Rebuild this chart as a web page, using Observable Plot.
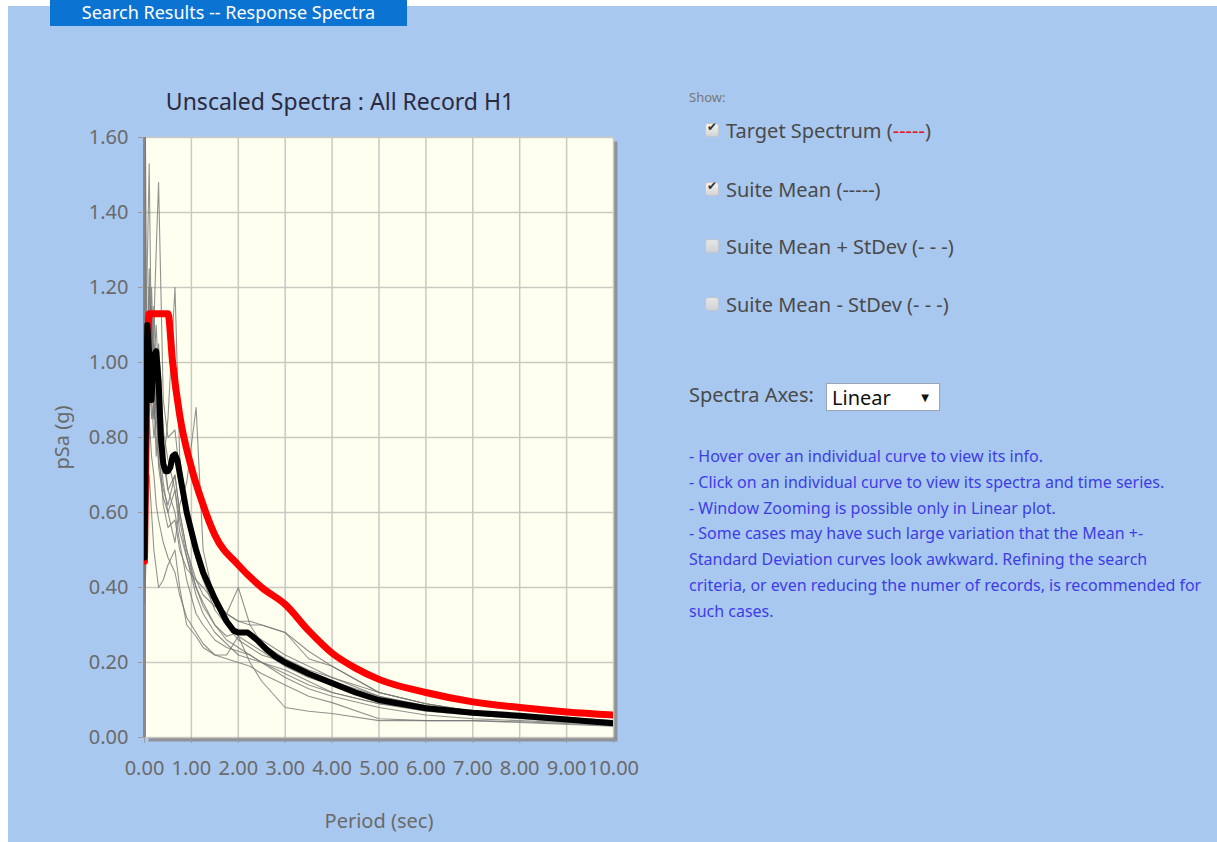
<!DOCTYPE html>
<html>
<head>
<meta charset="utf-8">
<script src="https://cdn.jsdelivr.net/npm/d3@7"></script>
<script src="https://cdn.jsdelivr.net/npm/@observablehq/plot@0.6"></script>
<style>
  html, body { margin: 0; padding: 0; width: 1217px; height: 842px; overflow: hidden; background: #ffffff; }
  body { position: relative; font-family: "Noto Sans", "Open Sans", "DejaVu Sans", sans-serif; }
  #panel { position: absolute; left: 8px; top: 6px; width: 1209px; height: 836px; background: #a9c8ef; }
  #tab { position: absolute; left: 50px; top: 0px; width: 357px; height: 26px; background: #0b74d2; color: #fff;
         font-size: 18px; line-height: 25px; text-align: center; white-space: nowrap; }
  #title { position: absolute; left: 140px; top: 85px; width: 400px; text-align: center; font-size: 23px; color: #2a2a3e; }
  #chart { position: absolute; left: 40px; top: 120px; }
  .side { position: absolute; color: #555; white-space: nowrap; }
  .show { left: 689px; top: 88px; font-size: 13px; color: #777; }
  .opt { left: 706px; font-size: 20px; color: #4a4a4a; }
  .box { display: inline-block; width: 12px; height: 12px; margin-right: 8px; vertical-align: 2px; border-radius: 2px;
         background: linear-gradient(#f4f4f4, #d4d4d4); box-shadow: 0 0 0 1px #c4c8d0; position: relative; }
  .box.on::after { content: "\2714"; position: absolute; left: 1px; top: -4px; font-size: 12px; color: #333; font-family: "DejaVu Sans", sans-serif; }
  .box.off { background: linear-gradient(#e6e6e6, #cfd2d6); box-shadow: 0 0 0 1px #bfc6d2; }
  .axes { left: 689px; top: 381px; font-size: 20px; color: #4a4a4a; }
  .sel { display: inline-block; margin-left: 7px; width: 114px; height: 28px; background: #fff; border: 1px solid #9aa4b2;
         vertical-align: middle; position: relative; color: #111; font-size: 20px; line-height: 27px; padding-left: 5px; box-sizing: border-box; }
  .sel span { position: absolute; right: 10px; top: 0; font-size: 10px; }
  .notes { left: 689px; top: 444px; font-size: 16px; line-height: 25.8px; color: #3d3de6; }
</style>
</head>
<body>
<div id="panel"></div>
<div id="tab">Search Results -- Response Spectra</div>
<div id="title">Unscaled Spectra : All Record H1</div>
<div id="chart"></div>

<div class="side show">Show:</div>
<div class="side opt" style="top:117px"><span class="box on"></span>Target Spectrum (<span style="color:#e8141a">-----</span>)</div>
<div class="side opt" style="top:176px"><span class="box on"></span>Suite Mean (-----)</div>
<div class="side opt" style="top:233px"><span class="box off"></span>Suite Mean + StDev (- - -)</div>
<div class="side opt" style="top:291px"><span class="box off"></span>Suite Mean - StDev (- - -)</div>
<div class="side axes">Spectra Axes: <div class="sel">Linear<span>&#9660;</span></div></div>
<div class="side notes">
- Hover over an individual curve to view its info.<br>
- Click on an individual curve to view its spectra and time series.<br>
- Window Zooming is possible only in Linear plot.<br>
- Some cases may have such large variation that the Mean +-<br>
Standard Deviation curves look awkward. Refining the search<br>
criteria, or even reducing the numer of records, is recommended for<br>
such cases.
</div>

<script>
// Period grid (sec) shared by the individual record spectra
const periods = [0, 0.02, 0.05, 0.1, 0.15, 0.2, 0.25, 0.3, 0.4, 0.5, 0.65, 0.75, 0.9, 1.1,
                 1.25, 1.5, 1.75, 2.0, 2.25, 2.5, 3.0, 3.5, 4.0, 5.0, 6.0, 7.0, 8.0, 10.0];

// Unscaled pseudo-spectral accelerations (g) of each record, H1 component
const record01 = [0.52, 1.60, 1.05, 0.95, 1.10, 0.85, 0.90, 0.80, 0.68, 0.60, 0.66, 0.58, 0.48, 0.40, 0.36, 0.30, 0.26, 0.24, 0.22, 0.20, 0.17, 0.14, 0.12, 0.09, 0.07, 0.06, 0.05, 0.035];
const record02 = [0.45, 0.70, 1.20, 1.53, 1.00, 1.15, 0.95, 1.05, 0.82, 0.74, 0.66, 0.55, 0.48, 0.38, 0.33, 0.28, 0.25, 0.22, 0.21, 0.20, 0.18, 0.15, 0.12, 0.09, 0.075, 0.063, 0.055, 0.04];
const record03 = [0.50, 0.62, 0.90, 1.20, 0.95, 1.10, 1.30, 1.48, 0.90, 0.80, 0.82, 0.70, 0.62, 0.50, 0.44, 0.37, 0.33, 0.31, 0.30, 0.30, 0.28, 0.21, 0.19, 0.12, 0.09, 0.07, 0.06, 0.04];
const record04 = [0.42, 0.55, 0.80, 1.00, 0.85, 0.90, 0.75, 0.82, 0.72, 0.85, 1.20, 0.75, 0.60, 0.48, 0.42, 0.34, 0.30, 0.27, 0.25, 0.23, 0.19, 0.16, 0.14, 0.10, 0.08, 0.065, 0.055, 0.04];
const record05 = [0.48, 0.58, 0.95, 1.25, 1.05, 0.85, 0.95, 0.72, 0.64, 0.60, 0.52, 0.62, 0.68, 0.88, 0.50, 0.36, 0.30, 0.26, 0.24, 0.22, 0.20, 0.17, 0.15, 0.11, 0.085, 0.07, 0.06, 0.045];
const record06 = [0.36, 0.42, 0.55, 0.70, 0.60, 0.50, 0.45, 0.40, 0.42, 0.46, 0.50, 0.40, 0.30, 0.27, 0.24, 0.22, 0.22, 0.27, 0.20, 0.15, 0.08, 0.07, 0.064, 0.045, 0.045, 0.045, 0.04, 0.03];
const record07 = [0.47, 0.60, 0.85, 1.10, 0.90, 0.80, 0.85, 0.78, 0.62, 0.56, 0.58, 0.50, 0.45, 0.42, 0.38, 0.35, 0.33, 0.40, 0.30, 0.25, 0.21, 0.18, 0.16, 0.11, 0.08, 0.065, 0.055, 0.04];
const record08 = [0.44, 0.52, 0.75, 0.95, 1.15, 0.95, 0.80, 0.74, 0.66, 0.62, 0.70, 0.60, 0.50, 0.40, 0.35, 0.30, 0.27, 0.28, 0.28, 0.26, 0.22, 0.19, 0.16, 0.12, 0.09, 0.07, 0.06, 0.04];
const record09 = [0.50, 0.65, 0.90, 1.05, 1.20, 1.00, 1.10, 0.95, 0.78, 0.66, 0.60, 0.52, 0.42, 0.33, 0.30, 0.26, 0.24, 0.23, 0.22, 0.20, 0.16, 0.13, 0.11, 0.08, 0.06, 0.05, 0.045, 0.035];
const record10 = [0.46, 0.55, 0.80, 1.00, 0.92, 1.05, 0.85, 0.90, 0.74, 0.66, 0.70, 0.60, 0.50, 0.42, 0.40, 0.36, 0.33, 0.31, 0.31, 0.30, 0.28, 0.23, 0.19, 0.12, 0.09, 0.07, 0.06, 0.045];
const record11 = [0.40, 0.48, 0.65, 0.85, 0.75, 0.70, 0.62, 0.58, 0.52, 0.48, 0.44, 0.38, 0.32, 0.28, 0.25, 0.22, 0.21, 0.20, 0.19, 0.17, 0.14, 0.11, 0.093, 0.05, 0.045, 0.045, 0.042, 0.032];
const records = [record01, record02, record03, record04, record05, record06, record07, record08, record09, record10, record11];

// Target spectrum (g)
const targetPeriods = [0, 0.1, 0.5, 0.6, 0.75, 1.0, 1.25, 1.5, 2.0, 2.5, 3.0, 3.5, 4.0, 4.5, 5.0, 6.0, 7.0, 8.0, 9.0, 10.0];
const targetValues  = [0.47, 1.13, 1.13, 1.00, 0.86, 0.72, 0.62, 0.54, 0.46, 0.40, 0.355, 0.285, 0.225, 0.185, 0.155, 0.12, 0.095, 0.08, 0.068, 0.060];

// Suite mean (g)
const meanPeriods = [0, 0.03, 0.06, 0.1, 0.15, 0.2, 0.25, 0.3, 0.35, 0.4, 0.45, 0.5, 0.55, 0.6, 0.65, 0.7, 0.8, 0.9, 1.0, 1.1, 1.25,
                     1.5, 1.75, 1.9, 2.0, 2.2, 2.4, 2.6, 2.8, 3.0, 3.5, 4.0, 4.5, 5.0, 6.0, 7.0, 8.0, 9.0, 10.0];
const meanValues  = [0.48, 0.85, 1.10, 1.02, 0.90, 1.02, 1.03, 0.95, 0.80, 0.73, 0.71, 0.71, 0.72, 0.75, 0.755, 0.74, 0.67, 0.60, 0.55, 0.50, 0.44,
                     0.37, 0.31, 0.285, 0.28, 0.28, 0.26, 0.235, 0.215, 0.20, 0.17, 0.145, 0.12, 0.10, 0.078, 0.066, 0.058, 0.048, 0.038];

// Axis ticks
const xTicks = [0, 1, 2, 3, 4, 5, 6, 7, 8, 9, 10];
const yTicks = [0, 0.2, 0.4, 0.6, 0.8, 1.0, 1.2, 1.4, 1.6];

const recordRows = records.flatMap((vals, i) => vals.map((v, j) => ({record: i + 1, T: periods[j], sa: v})));
const targetRows = targetPeriods.map((t, i) => ({T: t, sa: targetValues[i]}));
const meanRows = meanPeriods.map((t, i) => ({T: t, sa: meanValues[i]}));

const chart = Plot.plot({
  width: 600,
  height: 720,
  marginLeft: 104,
  marginRight: 27,
  marginTop: 17,
  marginBottom: 103,
  style: {background: "transparent", fontFamily: "'Noto Sans', 'Open Sans', sans-serif", fontSize: "20px", color: "#6a6a6a"},
  x: {domain: [0, 10]},
  y: {domain: [0, 1.6]},
  marks: [
    // drop shadow and ivory plot background
    Plot.frame({fill: "#8f9399", stroke: null, dx: 4, dy: 4}),
    Plot.frame({fill: "#fffff0", stroke: "#b8b8b0"}),
    Plot.ruleX(xTicks, {stroke: "#c9c9c1", strokeWidth: 1.5}),
    Plot.ruleY(yTicks, {stroke: "#c9c9c1", strokeWidth: 1.5}),
    Plot.ruleX([0], {stroke: "#8a8a8a", strokeWidth: 3}),
    Plot.line(recordRows, {x: "T", y: "sa", z: "record", stroke: "#777777", strokeOpacity: 0.8, strokeWidth: 1.1, clip: true}),
    Plot.line(targetRows, {x: "T", y: "sa", stroke: "#ff0000", strokeWidth: 7, curve: "monotone-x", clip: true}),
    Plot.line(meanRows, {x: "T", y: "sa", stroke: "#000000", strokeWidth: 6, clip: true}),
    Plot.axisX(xTicks, {tickFormat: d => d.toFixed(2), tickSize: 6, tickPadding: 17, stroke: "#9a9a9a", fill: "#6a6a6a",
                        label: "Period (sec)", labelAnchor: "center", labelArrow: "none", labelOffset: 90}),
    Plot.axisY(yTicks, {tickFormat: d => d.toFixed(2), tickSize: 6, tickPadding: 10, stroke: "#9a9a9a", fill: "#6a6a6a",
                        label: "pSa (g)", labelAnchor: "center", labelArrow: "none", labelOffset: 90, color: "#888"})
  ]
});
document.getElementById("chart").appendChild(chart);
</script>
</body>
</html>
